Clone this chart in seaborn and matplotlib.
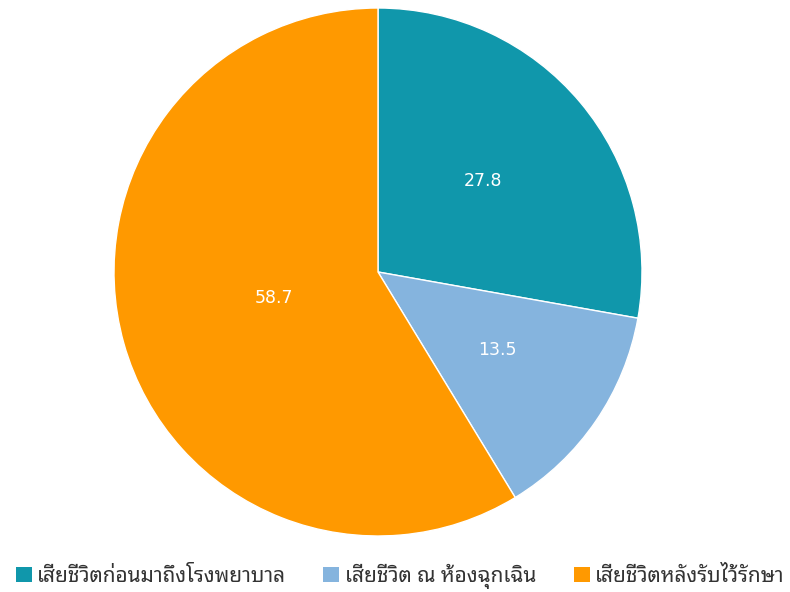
import matplotlib
matplotlib.use("Agg")
import numpy as np
import matplotlib.pyplot as plt
from matplotlib.patches import Patch
import seaborn as sns

categories = ["เสียชีวิตก่อนมาถึงโรงพยาบาล", "เสียชีวิต ณ ห้องฉุกเฉิน", "เสียชีวิตหลังรับไว้รักษา"]
values = [27.8, 13.5, 58.7]
colors = ["#1097AB", "#85B4DE", "#FF9900"]
label_dist = [0.52, 0.547, 0.41]

sns.set_theme(style="white")
plt.rcParams["font.family"] = ["Noto Sans Thai Looped", "DejaVu Sans"]

W, H = 790, 592
fig = plt.figure(figsize=(W / 100, H / 100), dpi=100)

# pie centred at (378, 272) px, radius 264 px
cx, cy, r = 378, 272, 264
ax = fig.add_axes([(cx - r) / W, (H - cy - r) / H, 2 * r / W, 2 * r / H])
wedges, texts, autotexts = ax.pie(
    values,
    colors=colors,
    startangle=90,
    counterclock=False,
    radius=1,
    autopct=lambda p: f"{p:.1f}",
    wedgeprops=dict(linewidth=1, edgecolor="white"),
    textprops=dict(color="white", fontsize=12.5, family=["DejaVu Sans"]),
)
# move each value label along its wedge bisector, nudged slightly upward
for w, t, d in zip(wedges, autotexts, label_dist):
    ang = np.deg2rad((w.theta1 + w.theta2) / 2)
    t.set_position((d * np.cos(ang), d * np.sin(ang) + 0.012))

ax.set_xlim(-1, 1)
ax.set_ylim(-1, 1)
ax.set_aspect("equal")
ax.axis("off")

handles = [Patch(facecolor=c, edgecolor="none") for c in colors]
leg = fig.legend(
    handles, categories,
    loc="center", bbox_to_anchor=(400 / W, 1 - 576 / H),
    ncol=3, frameon=False, fontsize=15,
    handlelength=0.77, handleheight=0.77, handletextpad=0.25, columnspacing=1.8,
    borderaxespad=0, borderpad=0,
)
for t in leg.get_texts():
    t.set_color("#333333")

fig.savefig("out.png", dpi=100)
